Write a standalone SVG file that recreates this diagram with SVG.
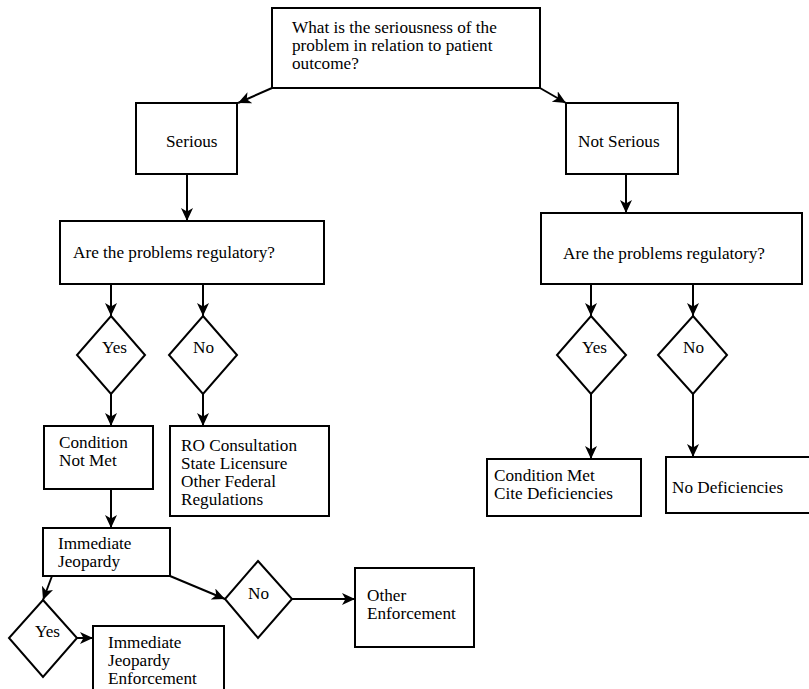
<svg xmlns="http://www.w3.org/2000/svg" width="809" height="689" viewBox="0 0 809 689">
<style>
rect,polygon{fill:#fff;stroke:#000;stroke-width:2}
text{font-family:"Liberation Serif","Times New Roman",serif;font-size:17.2px;fill:#000}
#connectors line{stroke:#000;stroke-width:2;marker-end:url(#ah)}
</style>
<defs>
<marker id="ah" markerUnits="userSpaceOnUse" markerWidth="15" markerHeight="13" refX="13" refY="6" orient="auto">
<path d="M0,0 L13,6 L0,12 L3.5,6 z" fill="#000"/>
</marker>
</defs>
<rect x="0" y="0" width="809" height="689" style="stroke:none"/>
<g id="q1"><rect x="272" y="8" width="268" height="80"/>
<text x="292" y="33">What is the seriousness of the</text>
<text x="292" y="51">problem in relation to patient</text>
<text x="292" y="69">outcome?</text></g>
<g id="serious"><rect x="136" y="103" width="101" height="71"/><text x="166" y="147">Serious</text></g>
<g id="notserious"><rect x="566" y="103" width="112" height="71"/><text x="578" y="147">Not Serious</text></g>
<g id="reg1"><rect x="60" y="221" width="264" height="63"/><text x="73" y="258">Are the problems regulatory?</text></g>
<g id="reg2"><rect x="541" y="213" width="261" height="71"/><text x="563" y="259">Are the problems regulatory?</text></g>
<g id="yes1"><polygon points="111,316 145,355 111,394 77,355"/><text x="102" y="353">Yes</text></g>
<g id="no1"><polygon points="203,316 237,355 203,394 169,355"/><text x="193" y="353">No</text></g>
<g id="yes2"><polygon points="591,316 626,355 591,394 557,355"/><text x="582" y="353">Yes</text></g>
<g id="no2"><polygon points="693,316 727,355 693,394 658,355"/><text x="683" y="353">No</text></g>
<g id="cnm"><rect x="44" y="426" width="109" height="63"/><text x="59" y="448">Condition</text><text x="59" y="466">Not Met</text></g>
<g id="ro"><rect x="170" y="426" width="159" height="90"/><text x="181" y="451">RO Consultation</text><text x="181" y="469">State Licensure</text><text x="181" y="487">Other Federal</text><text x="181" y="505">Regulations</text></g>
<g id="cm"><rect x="487" y="459" width="154" height="57"/><text x="494" y="481">Condition Met</text><text x="494" y="499">Cite Deficiencies</text></g>
<g id="nodef"><rect x="666" y="457" width="150" height="56"/><text x="672" y="493">No Deficiencies</text></g>
<g id="ij"><rect x="43" y="528" width="127" height="48"/><text x="58" y="549">Immediate</text><text x="58" y="567">Jeopardy</text></g>
<g id="yes3"><polygon points="43,600 77,638 43,677 9,638"/><text x="35" y="637">Yes</text></g>
<g id="no3"><polygon points="258,561 292,599 258,638 225,599"/><text x="248" y="599">No</text></g>
<g id="ije"><rect x="93" y="626" width="131" height="70"/><text x="108" y="648">Immediate</text><text x="108" y="666">Jeopardy</text><text x="108" y="684">Enforcement</text></g>
<g id="oe"><rect x="355" y="568" width="119" height="79"/><text x="367" y="601">Other</text><text x="367" y="619">Enforcement</text></g>
<g id="connectors">
<line x1="272" y1="88" x2="238" y2="103"/>
<line x1="540" y1="88" x2="566" y2="103"/>
<line x1="187" y1="174" x2="187" y2="221"/>
<line x1="626" y1="174" x2="626" y2="213"/>
<line x1="111" y1="284" x2="111" y2="316"/>
<line x1="203" y1="284" x2="203" y2="316"/>
<line x1="111" y1="394" x2="111" y2="426"/>
<line x1="203" y1="394" x2="203" y2="426"/>
<line x1="591" y1="284" x2="591" y2="316"/>
<line x1="693" y1="284" x2="693" y2="316"/>
<line x1="591" y1="394" x2="591" y2="459"/>
<line x1="693" y1="394" x2="693" y2="457"/>
<line x1="111" y1="489" x2="111" y2="528"/>
<line x1="52" y1="576" x2="43" y2="600"/>
<line x1="77" y1="638" x2="93" y2="638"/>
<line x1="170" y1="576" x2="225" y2="599"/>
<line x1="292" y1="599" x2="355" y2="599"/>
</g>
</svg>
